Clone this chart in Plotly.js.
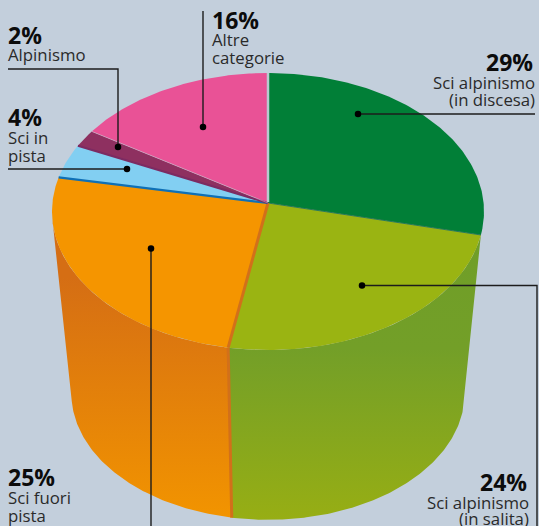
<!DOCTYPE html>
<html>
<head>
<meta charset="utf-8">
<script src="https://cdn.plot.ly/plotly-3.0.1.min.js"></script>
<style>html,body{margin:0;padding:0;background:#c3cfdc;overflow:hidden}#chart{width:539px;height:526px}</style>
</head>
<body>
<div id="chart"></div>
<script>
// ---- data ----
var categories = ["Sci alpinismo (in discesa)", "Sci alpinismo (in salita)", "Sci fuori pista", "Sci in pista", "Alpinismo", "Altre categorie"];
var values = [29, 24, 25, 4, 2, 16];
var topColors = ["#017f37", "#9ab412", "#f59500", "#82cff2", "#8e3060", "#e95296"];
var edgeColors = ["#2b7a58", "#d2701a", "#0f70b6", "#7c2b62", "#c8cfd8", null];
var edgeWidths = [1, 3, 2.2, 2, 0.5, 0];
var angleNudge = [-1.2, -0.8, 0, 0, 0, 0];
var wallStops = {
  1: [[0, "#97ae14"], [0.6, "#739f28"], [1, "#6f9e28"]],
  2: [[0, "#f29400"], [0.8, "#d56e14"], [1, "#d56e14"]]
};

// ---- projection of the disc: perspective ellipse ----
var CX = 268, CY = 203, R = 215.6, B = 138, K = 0.0614;
var BOTTOM_SCALE = 0.91, BOTTOM_CY = 386, BG = "#c3cfdc", INK = "#1c1c1c";

function project(deg, r, scale, cy) {
  var t = deg * Math.PI / 180, u = Math.sin(t) * r, v = -Math.cos(t) * r, d = 1 - K * v;
  return [CX + scale * R * u / d, cy + scale * B * v / d];
}
function rim(deg) { return project(deg, 1, 1, CY); }
function bot(deg) { return project(deg, 1, BOTTOM_SCALE, BOTTOM_CY); }
function arc(fn, a, b) {
  var pts = [], n = Math.max(2, Math.ceil(Math.abs(b - a) * 1.5));
  for (var i = 0; i <= n; i++) pts.push(fn(a + (b - a) * i / n));
  return pts;
}
function poly(pts, extra) {
  var tr = {type: "scatter", mode: "lines", x: pts.map(function (p) { return p[0]; }), y: pts.map(function (p) { return p[1]; }),
    fill: "toself", line: {width: 0}, hoverinfo: "skip", showlegend: false};
  for (var k in extra) tr[k] = extra[k];
  return tr;
}
function seg(p, q, color, w) {
  return {type: "scatter", mode: "lines", x: [p[0], q[0]], y: [p[1], q[1]], line: {color: color, width: w}, hoverinfo: "skip", showlegend: false};
}

// slice angles from the values
var ends = [], starts = [], total = values.reduce(function (a, b) { return a + b; }, 0), acc = 0;
values.forEach(function (v, i) { acc += v; ends.push(acc / total * 360 + angleNudge[i]); });
values.forEach(function (v, i) { starts.push(i ? ends[i - 1] : 0); });

var traces = [];
// front walls
function wall(i, tAngle, b0, b1, tEnd) {
  var pts = [rim(tAngle)].concat(arc(bot, b0, b1)).concat(arc(rim, tEnd, tAngle));
  traces.push(poly(pts, {fillgradient: {type: "vertical", colorscale: wallStops[i]}, fillcolor: wallStops[i][1][1]}));
}
wall(1, ends[0], 97, ends[1], ends[1]);
wall(2, ends[1], ends[1], 263, 264);

// dark seam on the wall between the two wall pieces
traces.push(seg(rim(ends[1]), bot(ends[1]), edgeColors[1], 3));

// top slices
values.forEach(function (v, i) {
  traces.push(poly([[CX, CY]].concat(arc(rim, starts[i], ends[i])).concat([[CX, CY]]), {fillcolor: topColors[i]}));
});
// cut faces between slices
values.forEach(function (v, i) {
  if (edgeWidths[i] > 0) traces.push(seg([CX, CY], rim(ends[i]), edgeColors[i], edgeWidths[i]));
});
// gap at twelve o'clock
traces.push(seg([CX, CY - 1], rim(0), "#b9cbd0", 2.5));

// ---- callouts (lines and dots) ----
var leaders = [
  [[203, 127], [203, 11]],
  [[118, 147], [118, 69], [8, 69]],
  [[127, 169], [8, 169]],
  [[151, 248.5], [151, 526]],
  [[358, 114], [535, 114]],
  [[362, 285.5], [537, 285.5], [537, 526]]
];
leaders.forEach(function (l) {
  traces.push({type: "scatter", mode: "lines", x: l.map(function (p) { return p[0]; }), y: l.map(function (p) { return p[1]; }),
    line: {color: INK, width: 1.4}, hoverinfo: "skip", showlegend: false});
});
traces.push({type: "scatter", mode: "markers", x: leaders.map(function (l) { return l[0][0]; }), y: leaders.map(function (l) { return l[0][1]; }),
  marker: {color: "#000", size: 6.5}, hoverinfo: "skip", showlegend: false});

// ---- text ----
var annotations = [];
function label(text, x, base, anchor, bold) {
  var size = bold ? 23 : 16.8;
  annotations.push({xref: "x", yref: "y", x: x, y: base - size * (bold ? 0.38 : 0.4), xanchor: anchor, yanchor: "middle", showarrow: false,
    borderpad: 0, text: bold ? "<b>" + text + "</b>" : text,
    font: {family: "'Open Sans', 'Noto Sans', sans-serif", size: size, color: bold ? "#0c0c0c" : "#2a2a2a"}});
}
label("16%", 211, 29, "left", true); label("Altre", 211, 46, "left"); label("categorie", 211, 64, "left");
label("2%", 7, 44, "left", true); label("Alpinismo", 7, 61, "left");
label("4%", 7, 126, "left", true); label("Sci in", 7, 144, "left"); label("pista", 7, 162, "left");
label("29%", 534, 71, "right", true); label("Sci alpinismo", 536, 89, "right"); label("(in discesa)", 536, 106, "right");
label("25%", 7, 486, "left", true); label("Sci fuori", 7, 504, "left"); label("pista", 7, 522, "left");
label("24%", 528, 491, "right", true); label("Sci alpinismo", 530, 509, "right"); label("(in salita)", 530, 525, "right");

var layout = {
  width: 539, height: 526, margin: {l: 0, r: 0, t: 0, b: 0},
  paper_bgcolor: BG, plot_bgcolor: BG, showlegend: false, hovermode: false,
  xaxis: {range: [0, 539], visible: false, fixedrange: true},
  yaxis: {range: [526, 0], visible: false, fixedrange: true},
  annotations: annotations
};
Plotly.newPlot("chart", traces, layout, {displayModeBar: false, staticPlot: true});
</script>
</body>
</html>
